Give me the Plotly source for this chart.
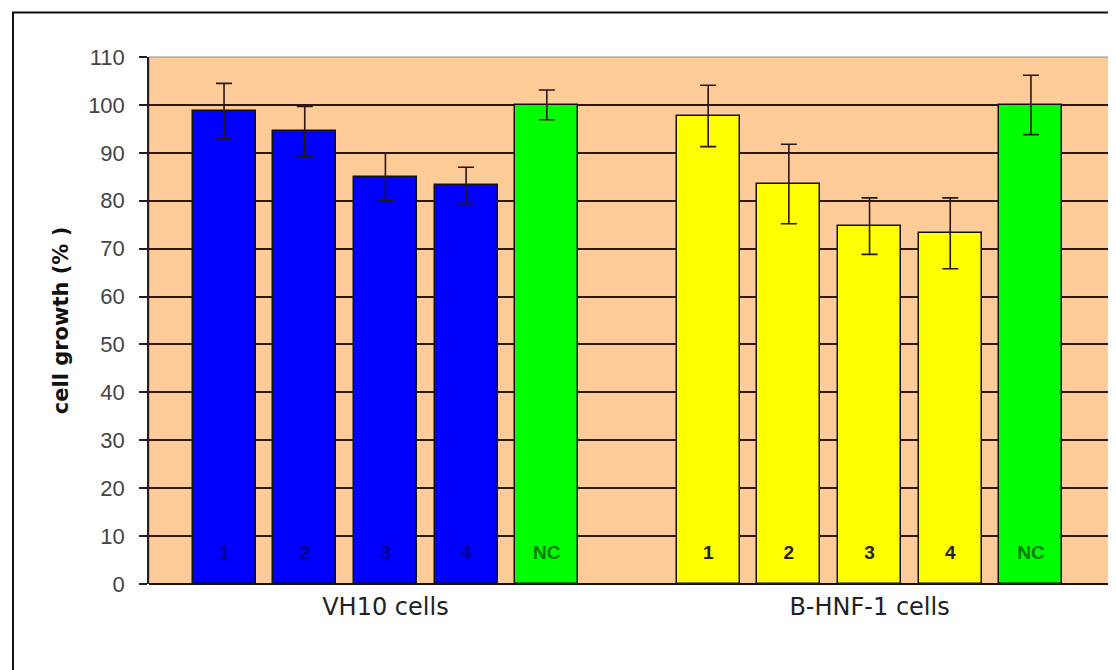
import plotly.graph_objects as go

# ---- data ----
groups = ["VH10 cells", "B-HNF-1 cells"]
bar_labels = ["1", "2", "3", "4", "NC"]
vh10_values = [98.7, 94.5, 85.0, 83.2, 100.0]
vh10_errors = [5.8, 5.2, 5.0, 3.8, 3.1]
bhnf_values = [97.7, 83.5, 74.7, 73.2, 100.0]
bhnf_errors = [6.4, 8.3, 5.9, 7.4, 6.2]
y_ticks = list(range(0, 111, 10))

# ---- styles ----
BLUE, GREEN, YELLOW = "#0000FF", "#00FF00", "#FFFF00"
vh_colors = [BLUE] * 4 + [GREEN]
bh_colors = [YELLOW] * 4 + [GREEN]
vh_text_colors = ["#000090"] * 4 + ["#007a00"]
bh_text_colors = ["#222222"] * 4 + ["#007a00"]

n = len(bar_labels)
x_vh = list(range(n))
x_bh = [i + n + 1 for i in range(n)]

fig = go.Figure()
for xs, vals, errs, cols in [(x_vh, vh10_values, vh10_errors, vh_colors),
                             (x_bh, bhnf_values, bhnf_errors, bh_colors)]:
    fig.add_trace(go.Bar(
        x=xs, y=vals, width=0.78,
        marker=dict(color=cols, line=dict(color="#111111", width=1.5)),
        error_y=dict(type="data", array=errs, visible=True,
                     color="#2a1510", thickness=1.6, width=8),
        showlegend=False, hoverinfo="y",
    ))

# labels near the bottom of each bar
fig.add_trace(go.Scatter(
    x=x_vh + x_bh, y=[6.3] * (2 * n), mode="text",
    text=[f"<b>{t}</b>" for t in bar_labels + bar_labels],
    textfont=dict(family="Liberation Sans, Arial", size=19,
                  color=vh_text_colors + bh_text_colors),
    showlegend=False, hoverinfo="skip",
))

fig.update_layout(
    width=1116, height=670,
    margin=dict(l=141, r=14, t=49, b=94),
    paper_bgcolor="white", plot_bgcolor="#FFCC99",
    font=dict(family="Liberation Sans, Arial", color="#333333"),
    bargap=0,
)

fig.update_xaxes(
    range=[-0.93, 10.98],
    tickvals=[sum(x_vh) / n, sum(x_bh) / n], ticktext=groups,
    tickfont=dict(family="DejaVu Sans", size=24, color="#222222"),
    ticks="", ticklabelstandoff=6, showgrid=False, zeroline=False,
    showline=False,
)
fig.update_yaxes(
    range=[0, 110], tickvals=y_ticks,
    tickfont=dict(size=22, color="#444444"),
    ticks="outside", ticklen=8, tickcolor="#222222", tickwidth=1.5,
    ticklabelstandoff=10,
    showgrid=True, gridcolor="#2a1a10", gridwidth=1.6,
    zeroline=True, zerolinecolor="#111111", zerolinewidth=2,
    showline=True, linecolor="#222222", linewidth=1.5,
    title=dict(text="<b>cell growth (% )</b>", standoff=14,
               font=dict(family="DejaVu Sans", size=21, color="#111111")),
)

# plot-area border (thin gray at top and right)
fig.add_shape(type="rect", xref="paper", yref="paper",
              x0=0, x1=1, y0=0, y1=1,
              line=dict(color="#8a8a8a", width=1), fillcolor="rgba(0,0,0,0)",
              layer="below")
# outer chart frame
fig.add_shape(type="rect", xref="paper", yref="paper",
              x0=(12 - 148) / 961, x1=(1135 - 148) / 961,
              y0=(583 - 700) / 527, y1=(583 - 11.5) / 527,
              line=dict(color="#111111", width=2), fillcolor="rgba(0,0,0,0)",
              layer="below")

fig.write_html("out.html")
